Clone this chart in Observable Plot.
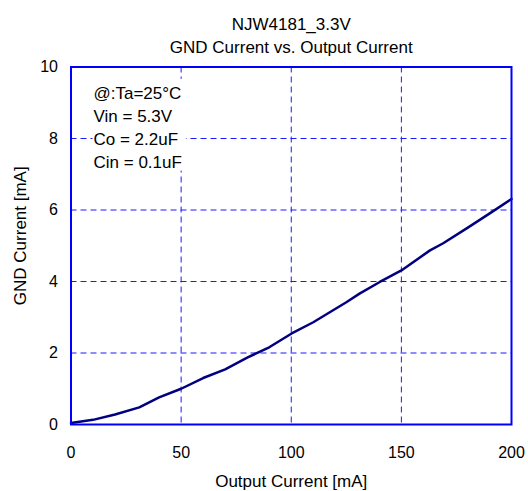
<!DOCTYPE html>
<html><head><meta charset="utf-8">
<script src="https://cdn.jsdelivr.net/npm/d3@7"></script>
<script src="https://cdn.jsdelivr.net/npm/@observablehq/plot@0.6"></script>
<style>
body{margin:0;background:#fff}
svg{font-family:"Liberation Sans",Arial,sans-serif}
</style>
</head><body><div id="chart"></div>
<script>
const outputCurrent = [0, 10, 20, 31, 40, 50, 60, 70, 80, 90, 100, 110, 125, 131, 140, 150, 163, 169, 180, 191, 200];
const gndCurrent = [0.04, 0.13, 0.28, 0.48, 0.76, 1.0, 1.30, 1.54, 1.87, 2.16, 2.54, 2.86, 3.42, 3.66, 3.98, 4.31, 4.87, 5.07, 5.50, 5.94, 6.31];
const xTicks = [0, 50, 100, 150, 200];
const yTicks = [0, 2, 4, 6, 8, 10];
const titleLines = ["NJW4181_3.3V", "GND Current vs. Output Current"];
const xTitle = "Output Current [mA]";
const yTitle = "GND Current [mA]";
const notes = ["@:Ta=25°C", "Vin = 5.3V", "Co = 2.2uF", "Cin = 0.1uF"];

const data = outputCurrent.map((x, i) => ({x, y: gndCurrent[i]}));
const gridColor = "#1a1aff";

const chart = Plot.plot({
  width: 528,
  height: 491,
  marginLeft: 70.5,
  marginRight: 17,
  marginTop: 66.5,
  marginBottom: 67,
  style: {fontFamily: '"Liberation Sans", Arial, sans-serif', fontSize: "16px", color: "#000", background: "#fff"},
  x: {domain: [0, 200], ticks: xTicks, tickSize: 0, tickPadding: 22, label: null, tickFormat: d => String(d)},
  y: {domain: [0, 10], ticks: yTicks, tickSize: 0, tickPadding: 13, label: null, tickFormat: d => String(d)},
  marks: [
    Plot.gridX(xTicks.slice(1, -1), {stroke: gridColor, strokeOpacity: 1, strokeWidth: 1, strokeDasharray: "6,4"}),
    Plot.gridY(yTicks.slice(1, -1), {stroke: gridColor, strokeOpacity: 1, strokeWidth: 1, strokeDasharray: "6,4"}),
    Plot.axisX(xTicks, {tickSize: 0, tickPadding: 22, fontSize: 16, fill: "#000"}),
    Plot.axisY(yTicks, {tickSize: 0, tickPadding: 13, fontSize: 16, fill: "#000"}),
    Plot.line(data, {x: "x", y: "y", stroke: "#000080", strokeWidth: 2.5}),
    Plot.frame({stroke: "#0000ff", strokeWidth: 2}),
    Plot.text([titleLines.join("\n")], {frameAnchor: "top", lineAnchor: "bottom", dy: -14, fontSize: 17, lineHeight: 1.35, fill: "#000"}),
    Plot.text([notes.join("\n")], {frameAnchor: "top-left", textAnchor: "start", lineAnchor: "top", dx: 22.5, dy: 15.5, fontSize: 17, lineHeight: 1.35, fill: "#000", className: "notes"}),
    Plot.text([xTitle], {frameAnchor: "bottom", lineAnchor: "middle", dy: 57, fontSize: 17, fill: "#000"}),
    Plot.text([yTitle], {frameAnchor: "left", textAnchor: "middle", rotate: -90, lineAnchor: "middle", dx: -50.5, dy: -10, fontSize: 17, fill: "#000"})
  ]
});
document.getElementById("chart").appendChild(chart);

// white background box behind the annotation block (inside the same group, so same coordinates)
const notesG = chart.querySelector("g.notes");
if (notesG) {
  const bb = notesG.getBBox();
  const rect = document.createElementNS("http://www.w3.org/2000/svg", "rect");
  rect.setAttribute("x", bb.x - 1);
  rect.setAttribute("y", bb.y - 5);
  rect.setAttribute("width", bb.width + 5);
  rect.setAttribute("height", bb.height + 4);
  rect.setAttribute("fill", "#fff");
  notesG.insertBefore(rect, notesG.firstChild);
}
</script>
</body></html>
